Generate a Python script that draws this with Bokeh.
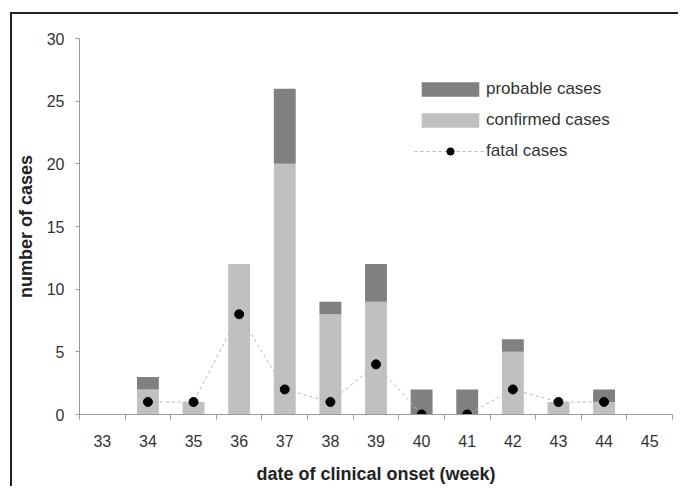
from bokeh.plotting import figure
from bokeh.models import ColumnDataSource, Range1d, FixedTicker, Legend, LegendItem
from bokeh.embed import file_html
from bokeh.resources import INLINE

weeks = [33, 34, 35, 36, 37, 38, 39, 40, 41, 42, 43, 44, 45]
confirmed = [0, 2, 1, 12, 20, 8, 9, 0, 0, 5, 1, 1, 0]
probable = [0, 1, 0, 0, 6, 1, 3, 2, 2, 1, 0, 1, 0]
fatal_weeks = [34, 35, 36, 37, 38, 39, 40, 41, 42, 43, 44]
fatal = [1, 1, 8, 2, 1, 4, 0, 0, 2, 1, 1]

FONT = "Liberation Sans"

src = ColumnDataSource(dict(weeks=weeks, confirmed=confirmed, probable=probable))
fsrc = ColumnDataSource(dict(x=fatal_weeks, y=fatal))

p = figure(width=668, height=474, output_backend="svg", toolbar_location=None,
           x_range=Range1d(32.5, 45.5), y_range=Range1d(0, 30),
           min_border_left=40, min_border_right=8, min_border_top=24, min_border_bottom=74)
p.styles = {"margin-left": "10px", "margin-top": "12px",
            "border-left": "2px solid #222", "border-top": "2px solid #222"}
p.outline_line_color = None
p.xgrid.visible = False
p.ygrid.visible = False

bars = p.vbar_stack(["confirmed", "probable"], x="weeks", width=0.48, source=src,
                    color=["#c0c0c0", "#808080"], line_color=None)
ln = p.line("x", "y", source=fsrc, line_color="#b8b8b8", line_width=1, line_dash="3 3")
pts = p.scatter("x", "y", source=fsrc, size=9, color="black")

xa = p.xaxis[0]
xa.ticker = FixedTicker(ticks=weeks, minor_ticks=[w - 0.5 for w in weeks] + [45.5])
xa.major_tick_out = 0
xa.major_tick_in = 0
xa.minor_tick_out = 5
xa.minor_tick_in = 0
xa.minor_tick_line_color = "#999999"
xa.axis_line_color = "#999999"
xa.major_label_standoff = 15
xa.major_label_text_font = FONT
xa.major_label_text_font_size = "16px"
xa.major_label_text_color = "#333333"
xa.axis_label = "date of clinical onset (week)"
xa.axis_label_text_font = FONT
xa.axis_label_text_font_style = "bold"
xa.axis_label_text_font_size = "18px"
xa.axis_label_text_color = "#222222"
xa.axis_label_standoff = 14

ya = p.yaxis[0]
ya.ticker = FixedTicker(ticks=[0, 5, 10, 15, 20, 25, 30])
ya.major_tick_out = 4
ya.major_tick_in = 0
ya.minor_tick_out = 0
ya.minor_tick_in = 0
ya.major_tick_line_color = "#999999"
ya.axis_line_color = "#999999"
ya.major_label_standoff = 11
ya.major_label_text_font = FONT
ya.major_label_text_font_size = "16px"
ya.major_label_text_color = "#333333"
ya.axis_label = "number of cases"
ya.axis_label_text_font = FONT
ya.axis_label_text_font_style = "bold"
ya.axis_label_text_font_size = "18px"
ya.axis_label_text_color = "#222222"
ya.axis_label_standoff = 8

legend = Legend(items=[
    LegendItem(label="probable cases", renderers=[bars[1]]),
    LegendItem(label="confirmed cases", renderers=[bars[0]]),
    LegendItem(label="fatal cases", renderers=[ln, pts]),
], location=(335, 253), glyph_width=72, glyph_height=18, label_height=18,
    spacing=11, padding=0, margin=0, label_standoff=0,
    border_line_alpha=0, background_fill_alpha=0,
    label_text_font=FONT, label_text_font_size="17px", label_text_color="#333333")
p.add_layout(legend, "center")

open("out.html", "w").write(file_html(p, INLINE))
